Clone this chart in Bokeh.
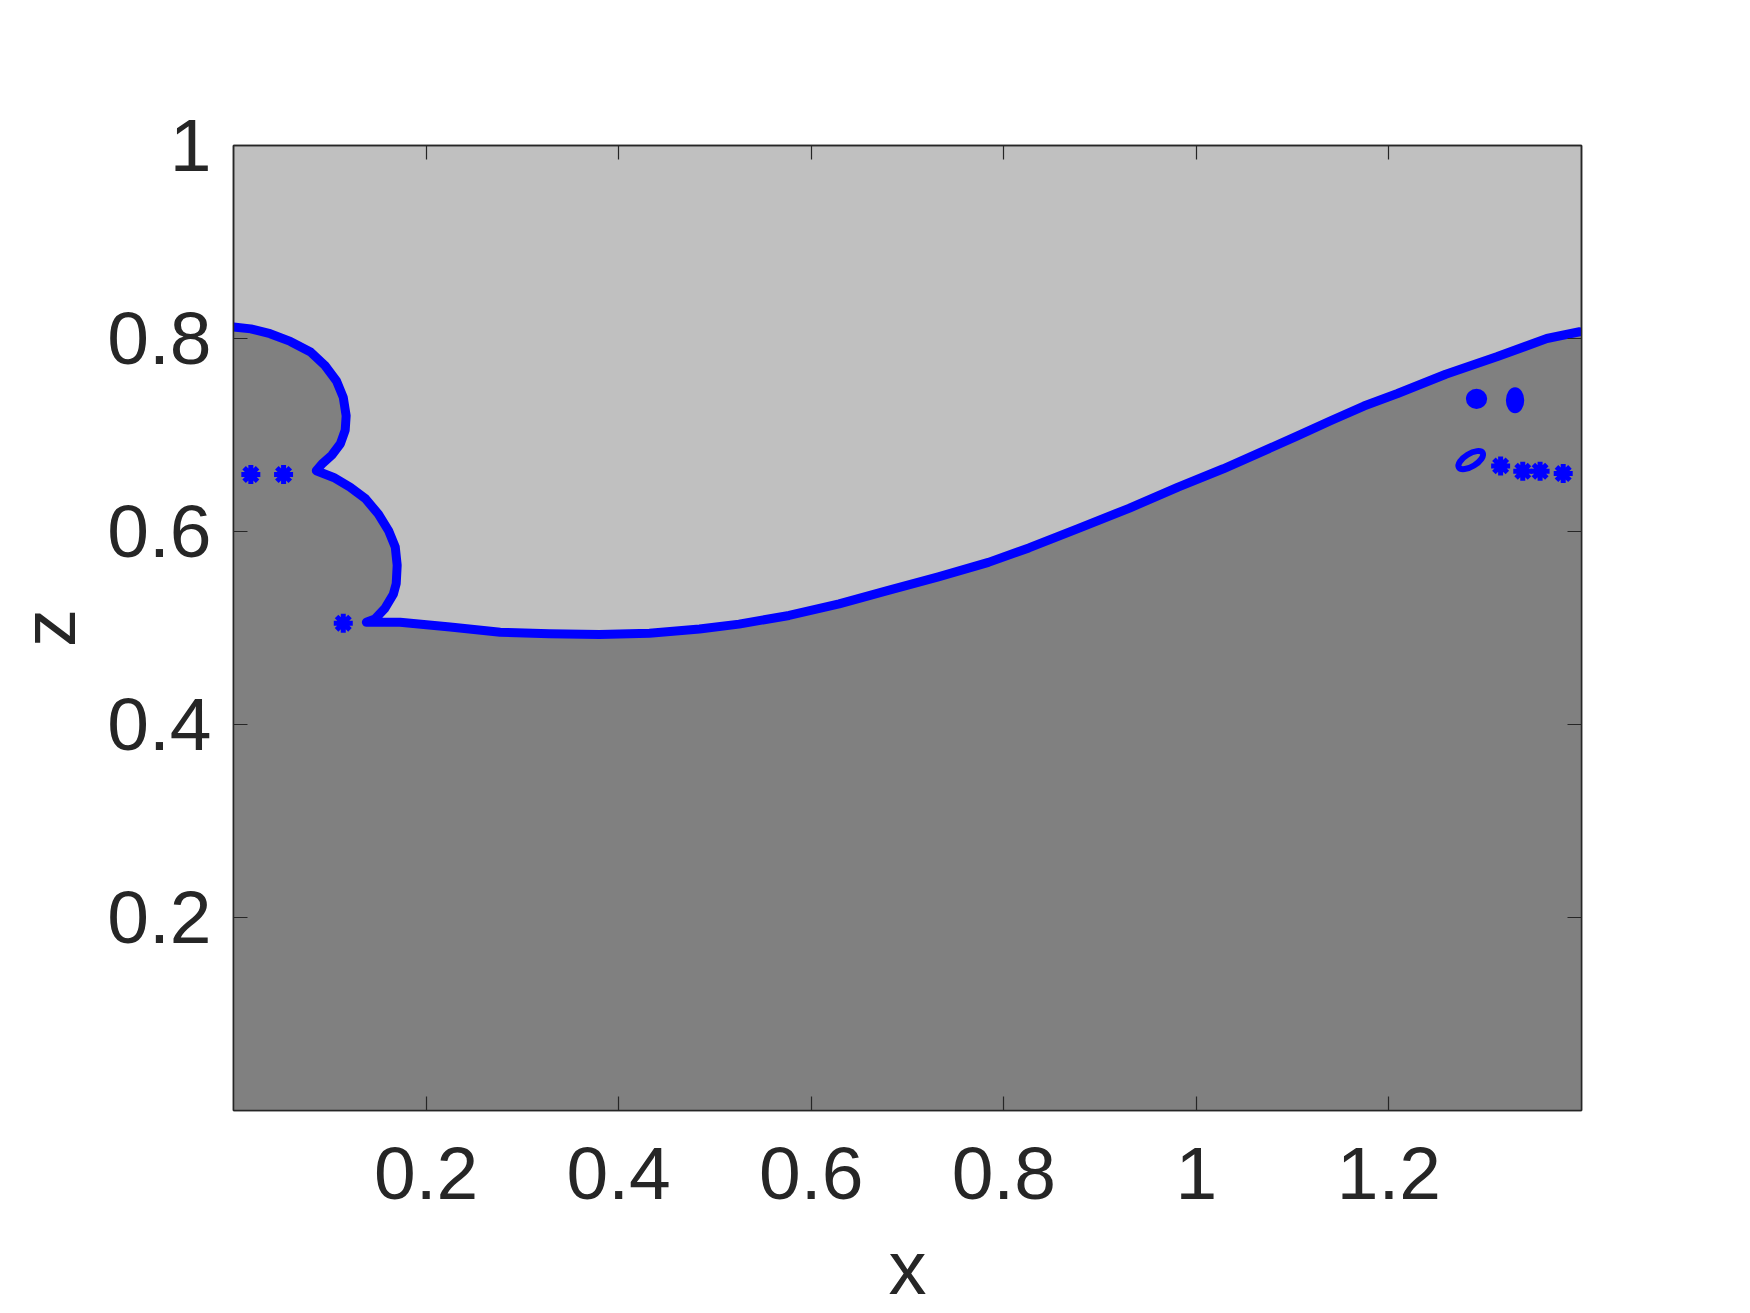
from bokeh.plotting import figure
from bokeh.models import LinearAxis, FixedTicker, Range1d
from bokeh.embed import file_html
from bokeh.resources import INLINE

# ---- data ----
iface_x = [0.000, 0.018, 0.038, 0.059, 0.080, 0.095, 0.107, 0.114, 0.117, 0.116,
           0.111, 0.102, 0.092, 0.086,
           0.104, 0.121, 0.137, 0.1505, 0.161, 0.168, 0.170, 0.169, 0.166, 0.157,
           0.147, 0.138,
           0.173, 0.225, 0.277, 0.328, 0.380, 0.432, 0.484, 0.525, 0.577, 0.629,
           0.680, 0.732, 0.784, 0.826, 0.877, 0.930, 0.981, 1.028, 1.105, 1.140,
           1.174, 1.209, 1.259, 1.312, 1.364, 1.398]
iface_z = [0.812, 0.810, 0.805, 0.797, 0.786, 0.772, 0.756, 0.739, 0.720, 0.705,
           0.691, 0.679, 0.670, 0.663,
           0.656, 0.646, 0.634, 0.618, 0.601, 0.584, 0.565, 0.546, 0.535, 0.520,
           0.5095, 0.506,
           0.506, 0.501, 0.4957, 0.494, 0.4933, 0.4946, 0.499, 0.504, 0.513, 0.525,
           0.539, 0.553, 0.568, 0.583, 0.603, 0.624, 0.646, 0.665, 0.699, 0.715,
           0.730, 0.743, 0.763, 0.781, 0.800, 0.807]

# small droplets (asterisk markers)
drop_x = [0.018, 0.052, 0.114, 1.316, 1.339, 1.357, 1.381]
drop_z = [0.659, 0.659, 0.505, 0.668, 0.6625, 0.6625, 0.660]

# larger filled droplets
blob_x = [1.291, 1.331]
blob_z = [0.7375, 0.736]
blob_w = [0.020, 0.017]
blob_h = [0.019, 0.025]

# hollow tilted droplet
ring_x = [1.285]
ring_z = [0.674]
ring_w = [0.029]
ring_h = [0.013]
ring_a = [0.55]

x_ticks = [0.2, 0.4, 0.6, 0.8, 1.0, 1.2]
x_tick_labels = ["0.2", "0.4", "0.6", "0.8", "1", "1.2"]
y_ticks = [0.2, 0.4, 0.6, 0.8, 1.0]
y_tick_labels = ["0.2", "0.4", "0.6", "0.8", "1"]

X_MIN, X_MAX = 0.0, 1.4
Z_MIN, Z_MAX = 0.0, 1.0

TXT = "#262626"
FONT = "Liberation Sans"

p = figure(width=1734, height=1313, output_backend="svg", toolbar_location=None,
           x_range=Range1d(X_MIN, X_MAX), y_range=Range1d(Z_MIN, Z_MAX),
           min_border_left=233, min_border_right=153,
           min_border_top=145, min_border_bottom=203,
           x_axis_label="x", y_axis_label="z")
p.background_fill_color = "#C0C0C0"
p.border_fill_color = "white"
p.grid.visible = False
p.outline_line_color = TXT
p.outline_line_width = 1.5

# fluid region below interface
poly_x = iface_x + [X_MAX, X_MAX, X_MIN, X_MIN]
poly_z = iface_z + [iface_z[-1], Z_MIN, Z_MIN, iface_z[0]]
p.patch(poly_x, poly_z, fill_color="#808080", line_color=None)

# interface
p.line(iface_x, iface_z, line_color="#0000FF", line_width=9,
       line_join="round", line_cap="round")

p.scatter(drop_x, drop_z, marker="asterisk", size=19, line_color="#0000FF",
          line_width=5)
p.ellipse(blob_x, blob_z, width=blob_w, height=blob_h, fill_color="#0000FF",
          line_color="#0000FF", line_width=2)
p.ellipse(ring_x, ring_z, width=ring_w, height=ring_h, angle=ring_a,
          fill_color=None, line_color="#0000FF", line_width=6)

xt = FixedTicker(ticks=x_ticks)
yt = FixedTicker(ticks=y_ticks)

def style(ax, ticker, labels=None, show=True):
    ax.ticker = ticker
    ax.minor_tick_line_color = None
    ax.major_tick_in = 14
    ax.major_tick_out = 0
    ax.major_tick_line_color = TXT
    ax.major_tick_line_width = 1.2
    ax.axis_line_color = TXT
    ax.axis_line_width = 1.5
    if show:
        ax.major_label_overrides = {t: l for t, l in zip(ticker.ticks, labels)}
        ax.major_label_text_font = FONT
        ax.major_label_text_font_size = "75px"
        ax.major_label_text_color = TXT
        ax.axis_label_text_font = FONT
        ax.axis_label_text_font_size = "76px"
        ax.axis_label_text_font_style = "normal"
        ax.axis_label_text_color = TXT
    else:
        ax.major_label_overrides = {t: "" for t in ticker.ticks}
        ax.major_label_text_font_size = "10px"
        ax.major_label_standoff = 0

style(p.xaxis[0], xt, x_tick_labels)
style(p.yaxis[0], yt, y_tick_labels)
p.xaxis[0].major_label_standoff = 37
p.xaxis[0].axis_label_standoff = 23
p.yaxis[0].major_label_standoff = 22
p.yaxis[0].axis_label_standoff = 13

top_ax = LinearAxis()
right_ax = LinearAxis()
style(top_ax, FixedTicker(ticks=x_ticks), show=False)
style(right_ax, FixedTicker(ticks=y_ticks), show=False)
p.add_layout(top_ax, "above")
p.add_layout(right_ax, "right")

open("out.html", "w").write(file_html(p, INLINE))
